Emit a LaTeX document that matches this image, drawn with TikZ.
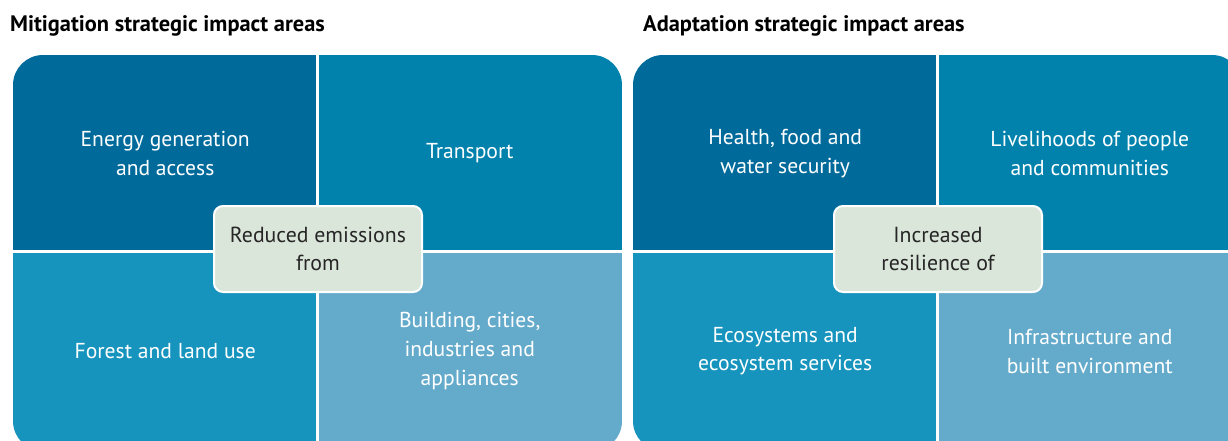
\documentclass[tikz,border=0pt]{standalone}
\usepackage{fontspec}
\setmainfont{PT Sans}
\begin{document}
\begin{tikzpicture}[x=1pt,y=-1pt,
  cell/.style={inner sep=0pt, minimum width=#1, minimum height=196pt, text=white, align=center, font=\fontsize{21.6}{28.8}\selectfont},
  hub/.style={fill=hubfill, draw=white, line width=2pt, rounded corners=9pt, minimum width=208pt, minimum height=86pt, align=center, font=\fontsize{21.8}{27.5}\selectfont, text=black!85},
  title/.style={anchor=west, font=\bfseries\fontsize{22.4}{24}\selectfont, inner sep=0pt},
  divider/.style={white, line width=3pt}]
\definecolor{cTL}{RGB}{0,107,155}
\definecolor{cTR}{RGB}{0,130,173}
\definecolor{cBL}{RGB}{22,148,190}
\definecolor{cBR}{RGB}{100,170,203}
\definecolor{hubfill}{RGB}{219,230,218}
\useasboundingbox (0,0) rectangle (1228,440);
\clip (0,0) rectangle (1228,440);
\node[title] (t1) at (10,26) {Mitigation strategic impact areas};
\node[title] (t2) at (643,26) {Adaptation strategic impact areas};
% left panel
\begin{scope}
\clip[rounded corners=30pt] (13,55) rectangle (622,451);
\node[cell=304pt, fill=cTL, anchor=north west, minimum height=196pt] (a1) at (13,55) {Energy generation\\and access};
\node[cell=305pt, fill=cTR, anchor=north west, minimum height=196pt] (a2) at (317,55) {Transport};
\node[cell=304pt, fill=cBL, anchor=north west, minimum height=200pt] (a3) at (13,251) {Forest and land use};
\node[cell=305pt, fill=cBR, anchor=north west, minimum height=200pt] (a4) at (317,251) {Building, cities,\\industries and\\appliances};
\end{scope}
\draw[divider] (a1.north east) -- (a3.south east);
\draw[divider] (a1.south west) -- (a2.south east);
\node[hub] (h1) at (318,249) {Reduced emissions\\from};
% right panel
\begin{scope}
\clip[rounded corners=30pt] (633,55) rectangle (1242,451);
\node[cell=304pt, fill=cTL, anchor=north west, minimum height=196pt] (b1) at (633,55) {Health, food and\\water security};
\node[cell=305pt, fill=cTR, anchor=north west, minimum height=196pt] (b2) at (937,55) {Livelihoods of people\\and communities};
\node[cell=304pt, fill=cBL, anchor=north west, minimum height=200pt] (b3) at (633,251) {Ecosystems and\\ecosystem services};
\node[cell=305pt, fill=cBR, anchor=north west, minimum height=200pt] (b4) at (937,251) {Infrastructure and\\built environment};
\end{scope}
\draw[divider] (b1.north east) -- (b3.south east);
\draw[divider] (b1.south west) -- (b2.south east);
\node[hub] (h2) at (938,249) {Increased\\resilience of};
\end{tikzpicture}
\end{document}
